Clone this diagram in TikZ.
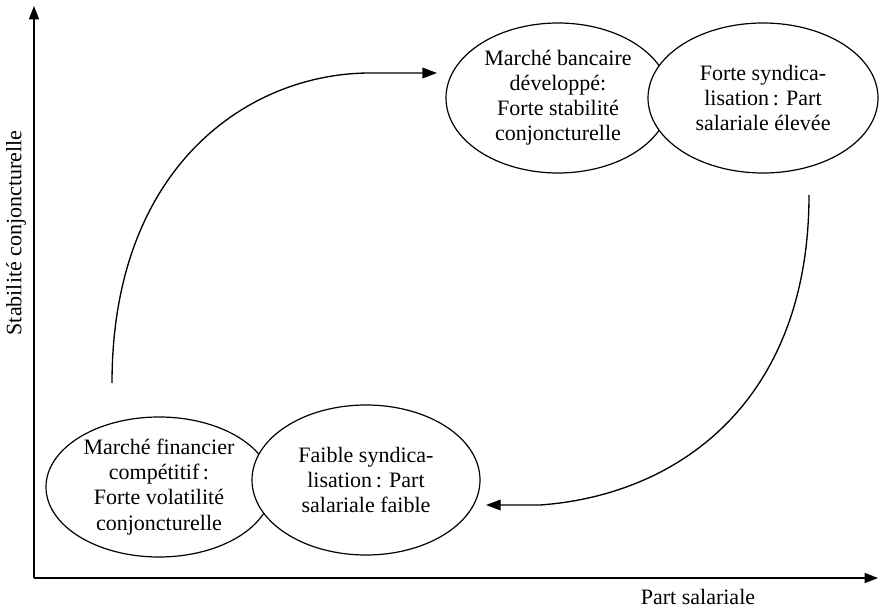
\documentclass[tikz,border=0pt]{standalone}
\usepackage{fontspec}
\setmainfont{Liberation Serif}
\usetikzlibrary{shapes.geometric,arrows.meta}
\begin{document}
\begin{tikzpicture}[x=0.75pt,y=-0.75pt,
  every node/.style={font=\fontsize{16.5}{18.8}\selectfont, align=center},
  oval/.style={ellipse, draw, fill=white, line width=0.9pt, inner sep=0pt},
  axis/.style={line width=1.1pt, -{Triangle[length=10pt,width=7.5pt]}},
  flow/.style={line width=1pt, -{Triangle[length=11pt,width=8pt]}}]
\useasboundingbox (0,0) rectangle (881,609);

% axes
\coordinate (O) at (34,578);
\coordinate (Y) at (34,6);
\coordinate (X) at (878,578);
\draw[axis] (O) -- (Y);
\draw[axis] (O) -- (X);
\node (ylab) [rotate=90] at (16,233) {Stabilité conjoncturelle};
\node (xlab) at (698,597) {Part salariale};

% ellipses
\node (bl) [oval, minimum width=169.5pt, minimum height=105pt] at (159,487)
  {Marché financier\\compétitif\,:\\Forte volatilité\\conjoncturelle};
\node (br) [oval, minimum width=171pt, minimum height=112.5pt] at (366,480)
  {Faible syndica-\\lisation\,: Part\\salariale faible};
\node (tl) [oval, minimum width=168pt, minimum height=112.5pt] at (558,98)
  {Marché bancaire\\développé:\\Forte stabilité\\conjoncturelle};
\node (tr) [oval, minimum width=172.5pt, minimum height=112.5pt] at (763,98)
  {Forte syndica-\\lisation\,: Part\\salariale élevée};

% cycle arrows
\coordinate (s1) at (112,383);
\coordinate (e1) at (437,73);
\coordinate (s2) at (809,195);
\coordinate (e2) at (486,505);
\draw[flow] (s1) .. controls (112,165) and (250,73) .. (370,73) -- (e1);
\draw[flow] (s2) .. controls (809,400) and (680,495) .. (540,505) -- (e2);
\end{tikzpicture}
\end{document}
